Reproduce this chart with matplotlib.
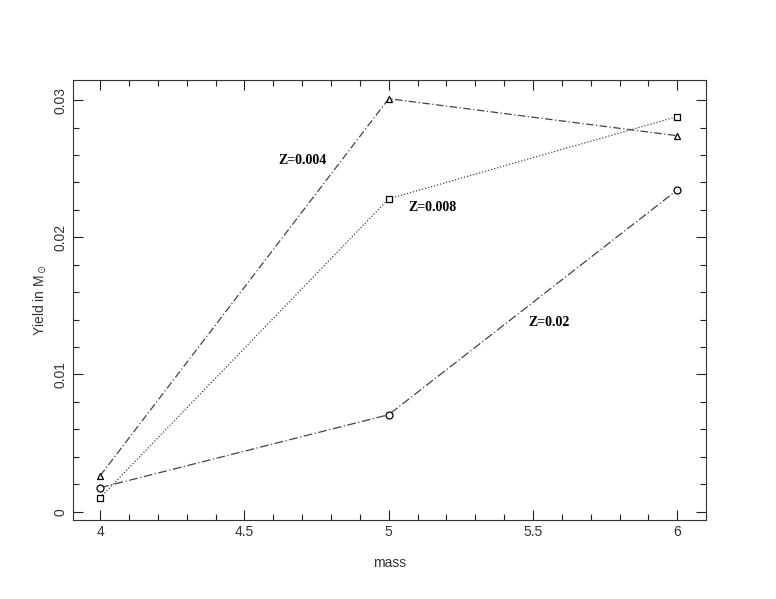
import matplotlib
matplotlib.use('Agg')
from matplotlib import pyplot as plt
from matplotlib.ticker import MultipleLocator

# Data
mass = [4, 5, 6]
yield_z004 = [0.00262, 0.0301, 0.0274]
yield_z008 = [0.00102, 0.0228, 0.0288]
yield_z02 = [0.00175, 0.00707, 0.02345]


def main():
    plt.rcParams['font.family'] = ['Liberation Sans', 'DejaVu Sans']
    fig = plt.figure(figsize=(7.76, 5.99), dpi=100)
    ax = fig.add_axes([0.0937, 0.1327, 0.8163, 0.7337])

    line_kw = dict(color='#444444', lw=0.9, mfc='white', mec='black', mew=0.9, ms=5)
    ax.plot(mass, yield_z004, marker='^', linestyle=(0, (6, 2, 1, 2)), **line_kw)
    ax.plot(mass, yield_z008, marker='s', linestyle=(0, (1, 1.5)), ms=4.5,
            **{k: v for k, v in line_kw.items() if k != 'ms'})
    ax.plot(mass, yield_z02, marker='o', linestyle=(0, (7, 2, 1, 2)), **line_kw)

    label_kw = dict(family='Liberation Serif', fontweight='bold', fontsize=10)
    ax.text(4.616, 0.02559, 'Z=0.004', va='center', **label_kw)
    ax.text(5.068, 0.0222, 'Z=0.008', va='center', **label_kw)
    ax.text(5.485, 0.01377, 'Z=0.02', va='center', **label_kw)

    ax.set_xlim(3.905, 6.1)
    ax.set_ylim(-0.00057, 0.03146)
    ax.xaxis.set_major_locator(MultipleLocator(0.5))
    ax.xaxis.set_minor_locator(MultipleLocator(0.1))
    ax.yaxis.set_major_locator(MultipleLocator(0.01))
    ax.yaxis.set_minor_locator(MultipleLocator(0.002))
    fmt = plt.FuncFormatter(lambda v, p: '0' if abs(v) < 1e-9 else f'{v:g}')
    ax.xaxis.set_major_formatter(fmt)
    ax.yaxis.set_major_formatter(fmt)
    ax.tick_params(which='both', direction='in', top=True, right=True, width=0.8,
                   labelsize=10, color='#222222', labelcolor='#333333')
    ax.tick_params(which='major', length=7)
    ax.tick_params(which='minor', length=4)
    ax.tick_params(axis='x', pad=4)
    ax.tick_params(axis='y', pad=4)
    for lab in ax.get_yticklabels():
        lab.set_rotation(90)
        lab.set_va('center')
    for sp in ax.spines.values():
        sp.set_linewidth(0.8)
        sp.set_color('#333333')

    ax.set_xlabel('mass', fontsize=10, labelpad=12, color='#333333')
    ax.set_ylabel(r'Yield in M$_\odot$', fontsize=10, labelpad=3.5, color='#333333')

    fig.savefig('out.png', dpi=100)
    plt.close()


if __name__ == '__main__':
    main()
